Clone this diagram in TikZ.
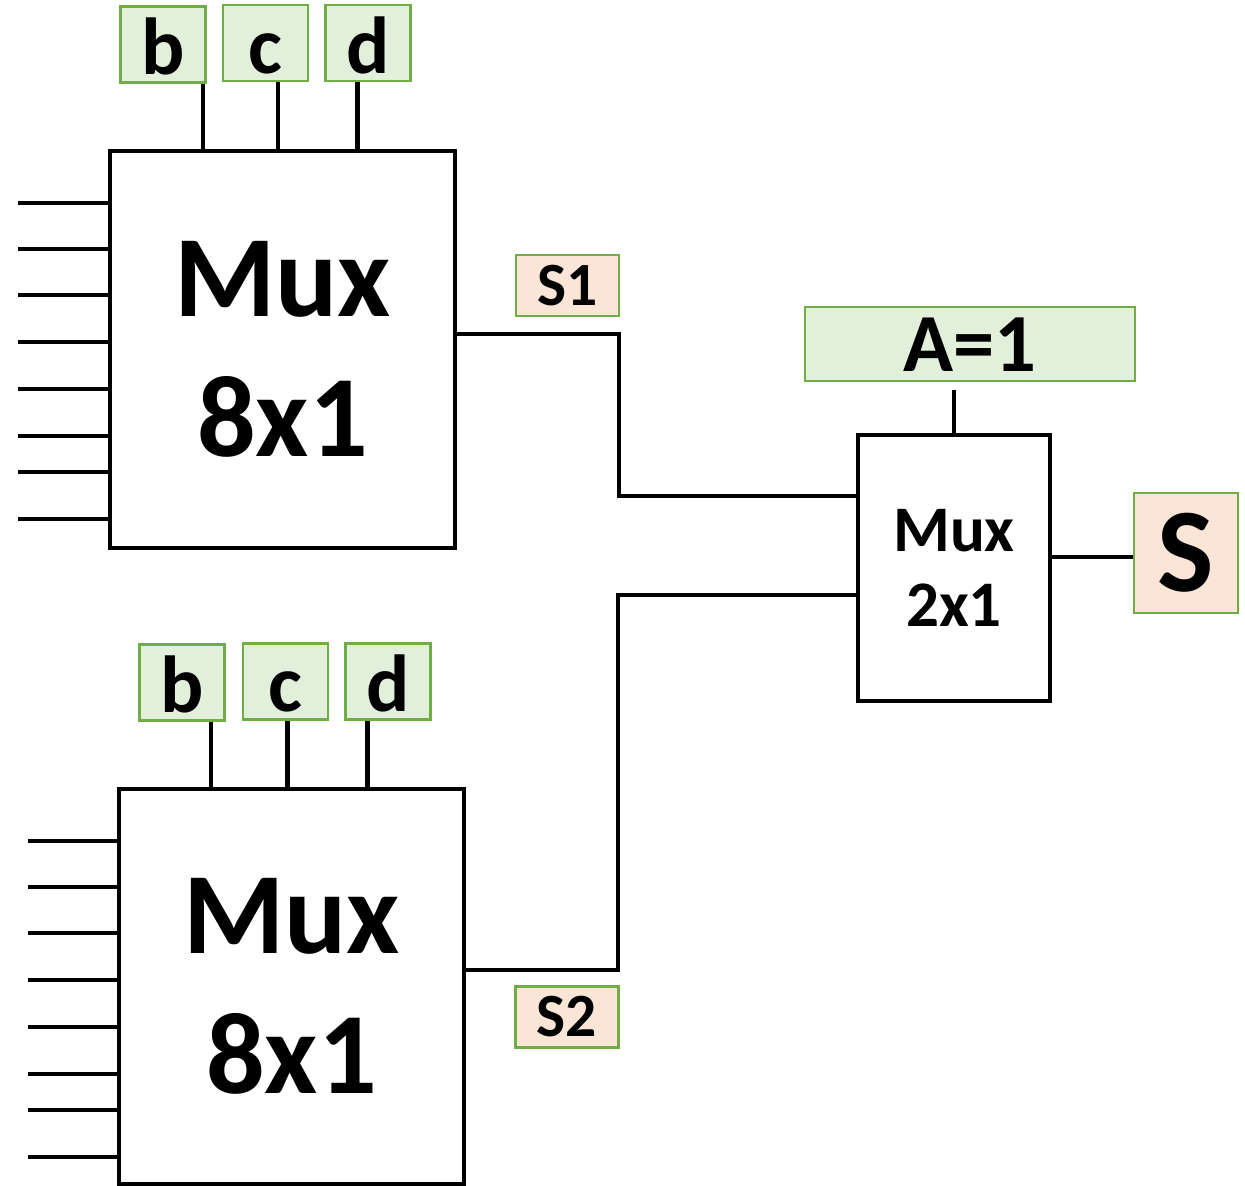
\documentclass[tikz,border=0pt]{standalone}
\usepackage{fontspec}
\setmainfont{Carlito}
\usetikzlibrary{positioning, calc}
\definecolor{selgreen}{HTML}{E2EFDA}
\definecolor{outpeach}{HTML}{FBE5D6}
\definecolor{boxedge}{HTML}{70AD47}

\begin{document}
\begin{tikzpicture}[x=0.02cm, y=-0.02cm,
  muxbox/.style={draw, line width=2.7pt, inner sep=0pt, align=center},
  selbox/.style={draw=boxedge, fill=selgreen, line width=1.5pt, inner sep=0pt,
                 minimum width=1.7cm, minimum height=1.52cm,
                 text height=1.36cm, text depth=0.14cm,
                 font=\fontsize{46}{50}\selectfont\bfseries},
  outbox/.style={draw=boxedge, fill=outpeach, line width=1.5pt, inner sep=0pt},
  wire/.style={line width=2.5pt}]

  \useasboundingbox (0,0) rectangle (1245,1186);

  % the two 8x1 multiplexers
  \node[muxbox, minimum width=6.9cm, minimum height=7.94cm,
        font=\fontsize{66}{80}\selectfont\bfseries] (m1) at (282.5,349.5) {Mux\\8x1};
  \node[muxbox, minimum width=6.9cm, minimum height=7.9cm,
        font=\fontsize{66}{80}\selectfont\bfseries] (m2) at (291.5,986.5) {Mux\\8x1};

  % the 2x1 multiplexer
  \node[muxbox, minimum width=3.84cm, minimum height=5.32cm,
        font=\fontsize{37}{43}\selectfont\bfseries] (mux2) at (954,568) {Mux\\2x1};

  % select inputs
  \node[selbox] (b1) at (163,44.5)  {b};
  \node[selbox] (c1) at (265.5,43)  {c};
  \node[selbox] (d1) at (368,43)    {d};
  \node[selbox] (b2) at (182,682.5) {b};
  \node[selbox] (c2) at (285.5,681.5) {c};
  \node[selbox] (d2) at (388,681.5) {d};
  \node[selbox, minimum width=6.6cm, minimum height=1.48cm,
        text height=1.3cm, text depth=0.18cm,
        font=\fontsize{47}{50}\selectfont\bfseries] (a) at (970,344) {A=1};

  % outputs
  \node[outbox, minimum width=2.06cm, minimum height=1.22cm,
        font=\fontsize{35}{40}\selectfont\bfseries] (s1) at (567.5,285.5) {S1};
  \node[outbox, minimum width=2.06cm, minimum height=1.22cm,
        font=\fontsize{35}{40}\selectfont\bfseries] (s2) at (567,1017) {S2};
  \node[outbox, minimum width=2.08cm, minimum height=2.4cm,
        font=\fontsize{68}{70}\selectfont\bfseries] (s) at (1186,553) {S};

  % data inputs
  \foreach \y in {203,249,295,342,389,436,472,519}
    \draw[wire] (m1.west |- 0,\y) -- ++(-90,0);
  \foreach \y in {841,887,933,980,1027,1074,1110,1157}
    \draw[wire] (m2.west |- 0,\y) -- ++(-89,0);

  % select lines
  \draw[wire] ([xshift=0.8cm]b1.south)  -- ([xshift=0.8cm]b1.south |- m1.north);
  \draw[wire] ([xshift=0.25cm]c1.south) -- ([xshift=0.25cm]c1.south |- m1.north);
  \draw[wire] ([xshift=-0.21cm]d1.south) -- ([xshift=-0.21cm]d1.south |- m1.north);
  \draw[wire] ([xshift=0.58cm]b2.south) -- ([xshift=0.58cm]b2.south |- m2.north);
  \draw[wire] ([xshift=0.04cm]c2.south) -- ([xshift=0.04cm]c2.south |- m2.north);
  \draw[wire] ([xshift=-0.41cm]d2.south) -- ([xshift=-0.41cm]d2.south |- m2.north);
  \draw[wire, shorten <=0.16cm] (mux2.north |- a.south) -- (mux2.north);

  % connections between the multiplexers
  \coordinate (j1) at (619,334);
  \coordinate (j2) at (619,496);
  \coordinate (j3) at (618,595);
  \coordinate (j4) at (618,970);
  \draw[wire] (m1.east |- j1) -- (j1) -- (j2) -- (mux2.west |- j2);
  \draw[wire] (mux2.west |- j3) -- (j3) -- (j4) -- (m2.east |- j4);
  \draw[wire] (mux2.east |- 0,557) -- (s.west |- 0,557);
\end{tikzpicture}
\end{document}
